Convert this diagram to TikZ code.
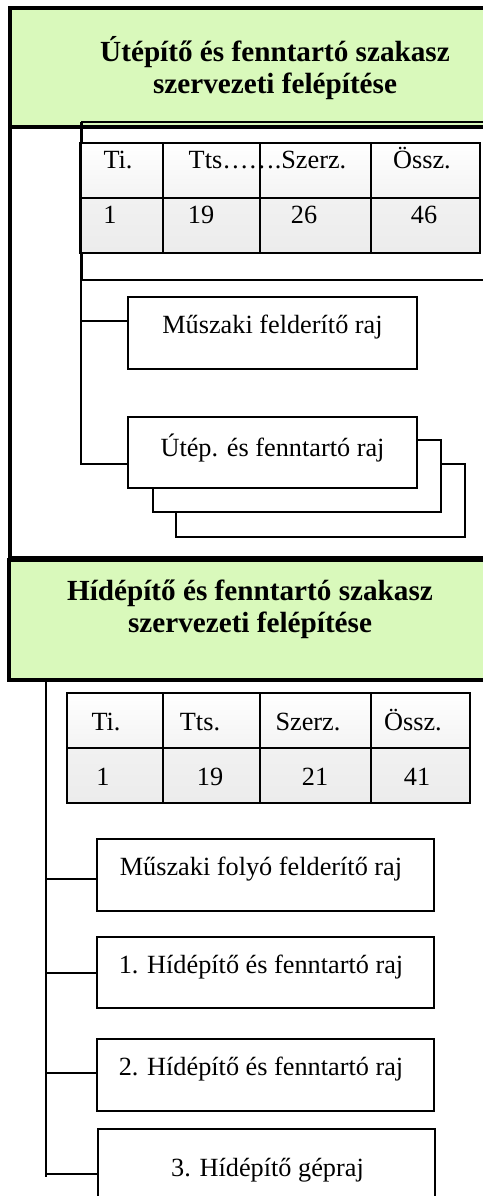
\documentclass[tikz,border=0pt]{standalone}
\usepackage{fontspec}
\setmainfont{Liberation Serif}
\definecolor{hdrgreen}{HTML}{D9F9BB}
\begin{document}
\begin{tikzpicture}[x=0.75pt,y=-0.75pt,
  frameline/.style={line width=2.3pt},
  thinframe/.style={line width=1.2pt},
  tabline/.style={line width=2pt},
  conn/.style={line width=1.1pt},
  hdr/.style={fill=hdrgreen, draw=black, line width=2.3pt, anchor=north west, inner sep=0pt, outer sep=0pt},
  hdrtext/.style={font=\fontsize{21.9}{26}\selectfont\bfseries, anchor=base, inner sep=0pt},
  txt/.style={font=\fontsize{19.7}{23}\selectfont, anchor=base, inner sep=0pt},
  rbox/.style={draw=black, line width=1.1pt, fill=white, anchor=north west, inner sep=0pt, outer sep=0pt},
  row1/.style={top color=white, bottom color=gray!9},
  row2/.style={top color=gray!11, bottom color=gray!15},
]
\useasboundingbox (0,0) rectangle (482,1196);

% ---------------- Section 1 ----------------
\node[hdr, minimum width=360pt, minimum height=89.25pt] (hdr1) at (10,8) {};
\node[hdrtext] (h1a) at (275,61) {Útépítő és fenntartó szakasz};
\node[hdrtext] (h1b) at (275,93) {szervezeti felépítése};

% outer frame
\coordinate (f1a) at (10,8);
\coordinate (f1b) at (10,558);
\coordinate (f1c) at (486,558);
\draw[frameline] (f1a) -- (f1b) -- (f1c);

% inner thin frame
\coordinate (if1) at (82,122);
\coordinate (if2) at (486,280);
\draw[thinframe] (if1) rectangle (if2);

% table 1
\shade[row1] (80,143) rectangle (480,198);
\shade[row2] (80,198) rectangle (480,253);
\draw[tabline] (80,143) rectangle (480,253);
\draw[tabline] (80,198) -- (480,198);
\foreach \cx in {163,260,371} \draw[tabline] (\cx,143) -- (\cx,253);
\node[txt] (t1a) at (118,168) {Ti.};
\node[txt] (t1b) at (267.5,168) {Tts…….Szerz.};
\node[txt] (t1c) at (422,168) {Össz.};
\node[txt] (t1d) at (110,223) {1};
\node[txt] (t1e) at (201,223) {19};
\node[txt] (t1f) at (304,223) {26};
\node[txt] (t1g) at (424,223) {46};

% boxes section 1
\node[rbox, minimum width=216.75pt, minimum height=54pt] (m1) at (128,297) {};
\node[txt] (m1t) at (272.5,333) {Műszaki felderítő raj};

\node[rbox, minimum width=216.75pt, minimum height=54.75pt] (s3) at (176,464) {};
\node[rbox, minimum width=216pt, minimum height=54pt] (s2) at (153,440) {};
\node[rbox, minimum width=216.75pt, minimum height=53.25pt] (u1) at (128,417) {};
\node[txt] (u1t) at (272.5,456) {Útép. és fenntartó raj};

% connectors section 1
\coordinate (sp1top) at (81,122);
\coordinate (sp1m) at (81,321);
\coordinate (sp1bot) at (81,464);
\draw[conn] (sp1top) -- (sp1bot) -- (u1.west |- sp1bot);
\draw[conn] (sp1m) -- (m1.west |- sp1m);

% ---------------- Section 2 ----------------
\node[hdr, minimum width=360.75pt, minimum height=90pt] (hdr2) at (9,560) {};
\node[hdrtext] (h2a) at (250,600) {Hídépítő és fenntartó szakasz};
\node[hdrtext] (h2b) at (250,632) {szervezeti felépítése};

% table 2
\shade[row1] (67,693) rectangle (470,748);
\shade[row2] (67,748) rectangle (470,803);
\draw[tabline] (67,693) rectangle (470,803);
\draw[tabline] (67,748) -- (470,748);
\foreach \cx in {163,260,371} \draw[tabline] (\cx,693) -- (\cx,803);
\node[txt] (t2a) at (106,730) {Ti.};
\node[txt] (t2b) at (200,730) {Tts.};
\node[txt] (t2c) at (308,730) {Szerz.};
\node[txt] (t2d) at (413,730) {Össz.};
\node[txt] (t2e) at (103,785) {1};
\node[txt] (t2f) at (210,785) {19};
\node[txt] (t2g) at (315,785) {21};
\node[txt] (t2h) at (417,785) {41};

% boxes section 2
\node[rbox, minimum width=252.75pt, minimum height=54pt] (ba) at (97,839) {};
\node[txt] (bat) at (261,875) {Műszaki folyó felderítő raj};
\node[rbox, minimum width=252.75pt, minimum height=53.25pt] (bb) at (97,937) {};
\node[txt] (bbt) at (261,973) {1. Hídépítő és fenntartó raj};
\node[rbox, minimum width=252.75pt, minimum height=54pt] (bc) at (97,1039) {};
\node[txt] (bct) at (261,1075) {2. Hídépítő és fenntartó raj};
\node[rbox, minimum width=252.75pt, minimum height=60pt] (bd) at (98,1129) {};
\node[txt] (bdt) at (267.5,1176) {3. Hídépítő gépraj};

% connectors section 2
\coordinate (sp2top) at (46,680);
\coordinate (sp2bot) at (46,1177);
\coordinate (sp2a) at (46,879);
\coordinate (sp2b) at (46,973);
\coordinate (sp2c) at (46,1073);
\coordinate (sp2d) at (46,1174);
\draw[conn] (sp2top) -- (sp2bot);
\draw[conn] (sp2a) -- (ba.west |- sp2a);
\draw[conn] (sp2b) -- (bb.west |- sp2b);
\draw[conn] (sp2c) -- (bc.west |- sp2c);
\draw[conn] (sp2d) -- (bd.west |- sp2d);
\end{tikzpicture}
\end{document}
